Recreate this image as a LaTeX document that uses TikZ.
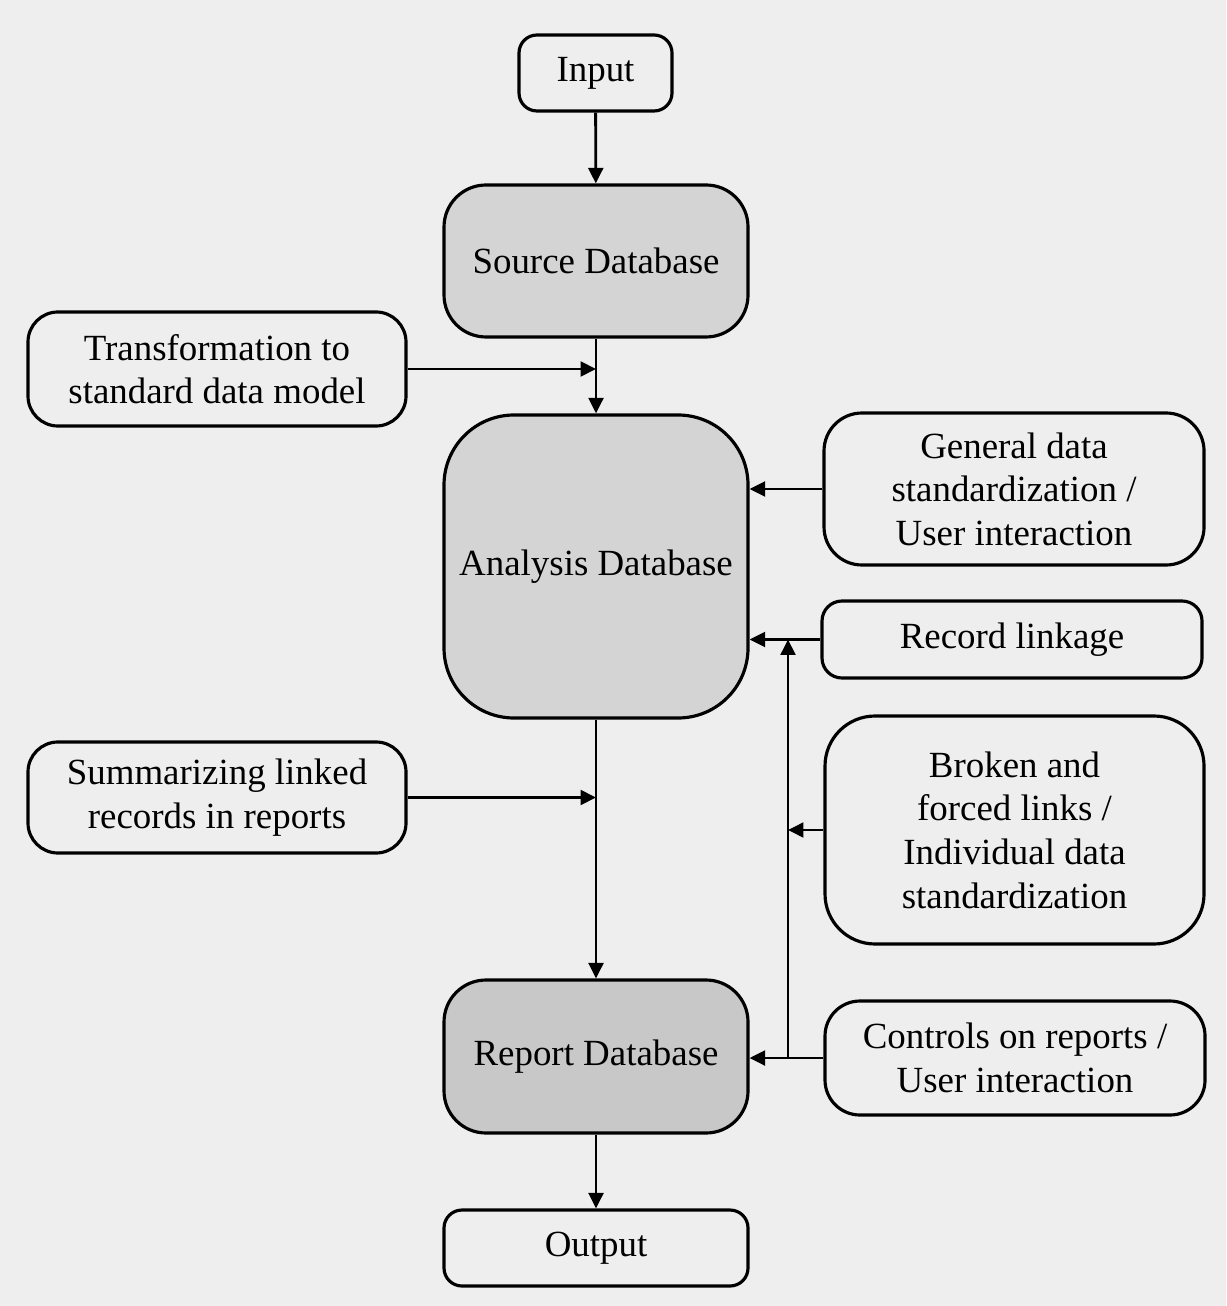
\documentclass[tikz,border=0pt]{standalone}
\usepackage{fontspec}
\setmainfont{Liberation Serif}
\usetikzlibrary{arrows.meta}

\definecolor{paper}{RGB}{238,238,238}
\definecolor{dbshade}{RGB}{212,212,212}
\definecolor{repshade}{RGB}{200,200,200}

\tikzset{
  box/.style={draw, line width=0.9pt, align=center, rounded corners=#1,
    font=\fontsize{10.5}{12.4}\selectfont, inner sep=2pt},
  box/.default=0.3cm,
  dbbox/.style={box=#1, fill=dbshade},
  link/.style={line width=0.8pt, -{Triangle[length=4.4pt,width=4.2pt]}}
}

\begin{document}
\begin{tikzpicture}
\fill[paper] (0,0) rectangle (12.26,-13.06);
\useasboundingbox (0,0) rectangle (12.26,-13.06);

% main column
\node[box=0.18cm, minimum width=1.53cm, minimum height=0.76cm] (input) at (5.955,-0.73) {Input};
\node[dbbox=0.42cm, minimum width=3.04cm, minimum height=1.52cm] (source) at (5.96,-2.61) {Source Database};
\node[dbbox=0.7cm, minimum width=3.04cm, minimum height=3.03cm] (analysis) at (5.96,-5.665) {Analysis Database};
\node[dbbox=0.42cm, fill=repshade, minimum width=3.04cm, minimum height=1.53cm] (report) at (5.96,-10.565) {Report Database};
\node[box=0.18cm, minimum width=3.04cm, minimum height=0.76cm] (output) at (5.96,-12.48) {Output};

% left side
\node[box=0.3cm, minimum width=3.78cm, minimum height=1.14cm] (transf) at (2.17,-3.69) {Transformation to\\standard data model};
\node[box=0.3cm, minimum width=3.78cm, minimum height=1.11cm] (summ) at (2.17,-7.975) {Summarizing linked\\records in reports};

% right side
\node[box=0.38cm, minimum width=3.8cm, minimum height=1.52cm] (general) at (10.14,-4.89) {General data\\standardization /\\User interaction};
\node[box=0.2cm, minimum width=3.8cm, minimum height=0.77cm] (linkage) at (10.12,-6.395) {Record linkage};
\node[box=0.5cm, minimum width=3.79cm, minimum height=2.28cm] (broken) at (10.145,-8.30) {Broken and\\forced links /\\Individual data\\standardization};
\node[box=0.35cm, minimum width=3.8cm, minimum height=1.14cm] (controls) at (10.15,-10.58) {Controls on reports /\\User interaction};

\coordinate (bus) at (7.88,0);

\draw[link] (input) -- (source);
\draw[link] (source) -- (analysis);
\draw[link] (analysis) -- (report);
\draw[link] (report) -- (output);

\draw[link] (transf) -- (transf -| source);
\draw[link] (summ) -- (summ -| analysis);

\draw[link] (general) -- (general -| analysis.east);
\draw[link] (linkage) -- (linkage -| analysis.east);
\draw[link] (controls) -- (controls -| report.east);
\draw[link] (controls -| bus) -- (linkage -| bus);
\draw[link] (broken) -- (broken -| bus);

\end{tikzpicture}
\end{document}
